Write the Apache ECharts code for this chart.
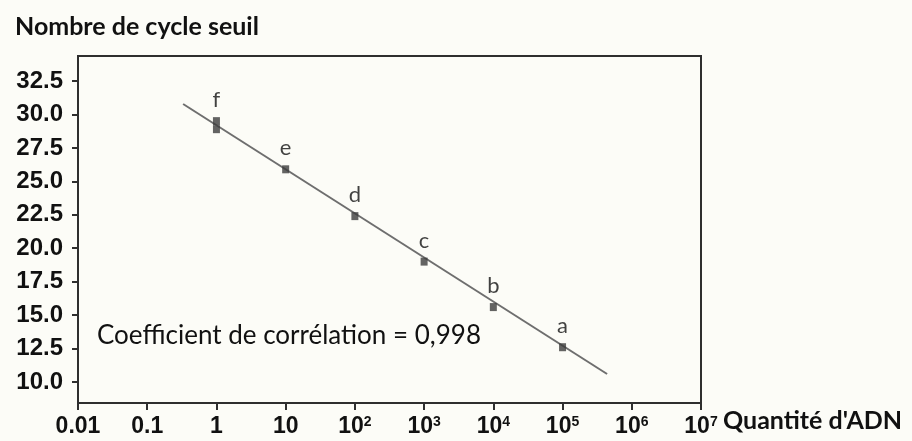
<!DOCTYPE html>
<html>
<head>
<meta charset="utf-8">
<script src="https://cdn.jsdelivr.net/npm/echarts@6/dist/echarts.min.js"></script>
<style>
html,body{margin:0;padding:0;background:#fcfcf7;}
#chart{width:912px;height:441px;}
</style>
</head>
<body>
<div id="chart"></div>
<script>
// Data
const quantities = [1, 1, 10, 100, 1000, 10000, 100000];
const cycles = [29.5, 28.9, 25.9, 22.4, 19.0, 15.6, 12.6];
const pointLabels = ['f', '', 'e', 'd', 'c', 'b', 'a'];
const fitX = [0.33, 440000];
const fitY = [30.78, 10.6];
const yTicks = [10, 12.5, 15, 17.5, 20, 22.5, 25, 27.5, 30, 32.5];
const xTickBase = ['0.01', '0.1', '1', '10', '10', '10', '10', '10', '10', '10'];
const xTickExp = ['', '', '', '', '2', '3', '4', '5', '6', '7'];

const chart = echarts.init(document.getElementById('chart'));
const axisColor = '#2e2e2e';
const tickFont = {fontFamily: 'Liberation Sans', fontWeight: 'bold', fontSize: 24, color: '#111'};

chart.setOption({
  backgroundColor: '#fcfcf7',
  animation: false,
  title: {
    text: 'Nombre de cycle seuil',
    left: 10, top: 9,
    textStyle: {fontFamily: 'Lato', fontWeight: 'bold', fontSize: 25, color: '#111'}
  },
  grid: {left: 78, right: 211, top: 56, bottom: 38, show: true, borderColor: axisColor, borderWidth: 2, backgroundColor: 'transparent'},
  xAxis: {
    type: 'log', logBase: 10, min: 0.01, max: 1e7,
    axisLine: {show: true, lineStyle: {color: axisColor, width: 2}},
    axisTick: {show: true, length: 7, lineStyle: {color: axisColor, width: 2}},
    splitLine: {show: false},
    minorTick: {show: false},
    axisLabel: Object.assign({
      margin: 12,
      showMinLabel: true, showMaxLabel: true,
      formatter: function (v) {
        const i = Math.round(Math.log10(v)) + 2;
        return '{b|' + xTickBase[i] + '}' + (xTickExp[i] ? '{s|' + xTickExp[i] + '}' : '');
      },
      rich: {
        b: {fontFamily: 'Liberation Sans', fontWeight: 'bold', fontSize: 23, color: '#111', lineHeight: 24},
        s: {fontFamily: 'Liberation Sans', fontWeight: 'bold', fontSize: 14, color: '#111', verticalAlign: 'top', lineHeight: 24, padding: [0, 0, 10, 0]}
      }
    }, tickFont)
  },
  yAxis: {
    type: 'value', min: 8.43, max: 34.37,
    axisLine: {show: true, lineStyle: {color: axisColor, width: 2}},
    axisTick: {show: true, length: 6, customValues: yTicks, lineStyle: {color: axisColor, width: 2}},
    splitLine: {show: false},
    axisLabel: Object.assign({
      margin: 15, customValues: yTicks,
      formatter: function (v) { return v.toFixed(1); }
    }, tickFont)
  },
  graphic: [{
    type: 'text', left: 97, top: 323,
    style: {text: 'Coefficient de corrélation = 0,998', fontFamily: 'Lato', fontSize: 26, fill: '#111'}
  }, {
    type: 'text', left: 723, top: 408,
    style: {text: "Quantité d'ADN", fontFamily: 'Lato', fontWeight: 'bold', fontSize: 25, fill: '#111'}
  }],
  series: [
    {
      type: 'line',
      data: fitX.map((x, i) => [x, fitY[i]]),
      symbol: 'none',
      lineStyle: {color: '#6e6e6e', width: 2},
      z: 2
    },
    {
      type: 'scatter',
      data: quantities.map((x, i) => [x, cycles[i]]),
      symbol: 'rect', symbolSize: [7, 8],
      itemStyle: {color: '#3c3c3c'},
      label: {
        show: true, position: 'top', distance: 6,
        fontFamily: 'Lato', fontSize: 22, color: '#111',
        formatter: function (p) { return pointLabels[p.dataIndex]; }
      },
      z: 3
    }
  ]
});
</script>
</body>
</html>
